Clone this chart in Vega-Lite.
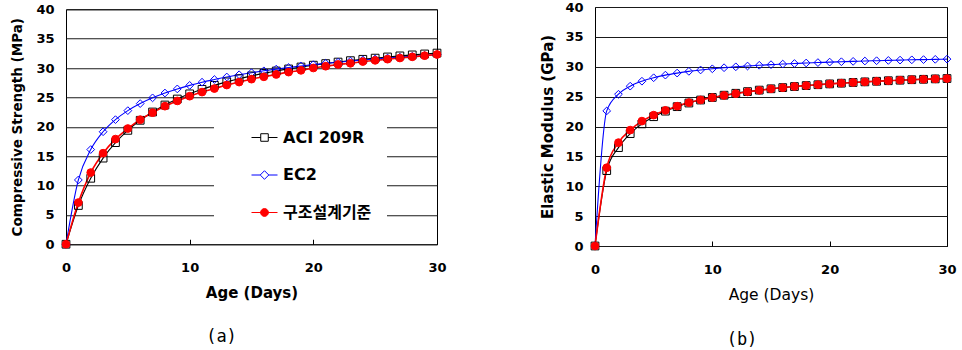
{
  "$schema": "https://vega.github.io/schema/vega-lite/v6.json",
  "background": "white",
  "padding": {"left": 10, "top": 0, "right": 5, "bottom": 0},
  "spacing": 93,
  "center": true,
  "datasets": {
    "strength": [
      {"t": 0, "ACI 209R": 0, "EC2": 0, "구조설계기준": 0},
      {"t": 1, "ACI 209R": 6.60, "EC2": 10.94, "구조설계기준": 7.1},
      {"t": 2, "ACI 209R": 11.23, "EC2": 16.12, "구조설계기준": 12.2},
      {"t": 3, "ACI 209R": 14.66, "EC2": 19.15, "구조설계기준": 15.5},
      {"t": 4, "ACI 209R": 17.30, "EC2": 21.21, "구조설계기준": 17.9},
      {"t": 5, "ACI 209R": 19.39, "EC2": 22.74, "구조설계기준": 19.7},
      {"t": 6, "ACI 209R": 21.10, "EC2": 23.94, "구조설계기준": 21.2},
      {"t": 7, "ACI 209R": 22.51, "EC2": 24.92, "구조설계기준": 22.4},
      {"t": 8, "ACI 209R": 23.70, "EC2": 25.74, "구조설계기준": 23.5},
      {"t": 9, "ACI 209R": 24.72, "EC2": 26.44, "구조설계기준": 24.4},
      {"t": 10, "ACI 209R": 25.60, "EC2": 27.04, "구조설계기준": 25.2},
      {"t": 11, "ACI 209R": 26.37, "EC2": 27.58, "구조설계기준": 25.9},
      {"t": 12, "ACI 209R": 27.04, "EC2": 28.04, "구조설계기준": 26.5},
      {"t": 13, "ACI 209R": 27.64, "EC2": 28.47, "구조설계기준": 27.1},
      {"t": 14, "ACI 209R": 28.18, "EC2": 28.85, "구조설계기준": 27.6},
      {"t": 15, "ACI 209R": 28.66, "EC2": 29.20, "구조설계기준": 28.1},
      {"t": 16, "ACI 209R": 29.09, "EC2": 29.52, "구조설계기준": 28.5},
      {"t": 17, "ACI 209R": 29.49, "EC2": 29.81, "구조설계기준": 28.9},
      {"t": 18, "ACI 209R": 29.84, "EC2": 30.08, "구조설계기준": 29.3},
      {"t": 19, "ACI 209R": 30.17, "EC2": 30.33, "구조설계기준": 29.6},
      {"t": 20, "ACI 209R": 30.48, "EC2": 30.57, "구조설계기준": 30.0},
      {"t": 21, "ACI 209R": 30.75, "EC2": 30.79, "구조설계기준": 30.3},
      {"t": 22, "ACI 209R": 31.01, "EC2": 30.99, "구조설계기준": 30.6},
      {"t": 23, "ACI 209R": 31.25, "EC2": 31.18, "구조설계기준": 30.8},
      {"t": 24, "ACI 209R": 31.48, "EC2": 31.37, "구조설계기준": 31.1},
      {"t": 25, "ACI 209R": 31.68, "EC2": 31.54, "구조설계기준": 31.3},
      {"t": 26, "ACI 209R": 31.88, "EC2": 31.70, "구조설계기준": 31.5},
      {"t": 27, "ACI 209R": 32.06, "EC2": 31.85, "구조설계기준": 31.7},
      {"t": 28, "ACI 209R": 32.23, "EC2": 32.00, "구조설계기준": 31.9},
      {"t": 29, "ACI 209R": 32.39, "EC2": 32.14, "구조설계기준": 32.1},
      {"t": 30, "ACI 209R": 32.54, "EC2": 32.27, "구조설계기준": 32.3}
    ],
    "modulus": [
      {"t": 0, "ACI 209R": 0, "EC2": 0, "구조설계기준": 0},
      {"t": 1, "ACI 209R": 12.62, "EC2": 22.61, "구조설계기준": 13.1},
      {"t": 2, "ACI 209R": 16.47, "EC2": 25.40, "구조설계기준": 17.3},
      {"t": 3, "ACI 209R": 18.81, "EC2": 26.75, "구조설계기준": 19.4},
      {"t": 4, "ACI 209R": 20.44, "EC2": 27.58, "구조설계기준": 20.9},
      {"t": 5, "ACI 209R": 21.64, "EC2": 28.16, "구조설계기준": 21.9},
      {"t": 6, "ACI 209R": 22.57, "EC2": 28.60, "구조설계기준": 22.7},
      {"t": 7, "ACI 209R": 23.32, "EC2": 28.94, "구조설계기준": 23.4},
      {"t": 8, "ACI 209R": 23.93, "EC2": 29.23, "구조설계기준": 24.0},
      {"t": 9, "ACI 209R": 24.43, "EC2": 29.46, "구조설계기준": 24.45},
      {"t": 10, "ACI 209R": 24.86, "EC2": 29.66, "구조설계기준": 24.85},
      {"t": 11, "ACI 209R": 25.24, "EC2": 29.84, "구조설계기준": 25.2},
      {"t": 12, "ACI 209R": 25.56, "EC2": 29.99, "구조설계기준": 25.5},
      {"t": 13, "ACI 209R": 25.84, "EC2": 30.12, "구조설계기준": 25.8},
      {"t": 14, "ACI 209R": 26.09, "EC2": 30.25, "구조설계기준": 26.05},
      {"t": 15, "ACI 209R": 26.31, "EC2": 30.35, "구조설계기준": 26.3},
      {"t": 16, "ACI 209R": 26.51, "EC2": 30.45, "구조설계기준": 26.5},
      {"t": 17, "ACI 209R": 26.69, "EC2": 30.54, "구조설계기준": 26.7},
      {"t": 18, "ACI 209R": 26.85, "EC2": 30.63, "구조설계기준": 26.85},
      {"t": 19, "ACI 209R": 26.99, "EC2": 30.70, "구조설계기준": 27.0},
      {"t": 20, "ACI 209R": 27.13, "EC2": 30.78, "구조설계기준": 27.13},
      {"t": 21, "ACI 209R": 27.25, "EC2": 30.84, "구조설계기준": 27.25},
      {"t": 22, "ACI 209R": 27.37, "EC2": 30.90, "구조설계기준": 27.37},
      {"t": 23, "ACI 209R": 27.47, "EC2": 30.96, "구조설계기준": 27.47},
      {"t": 24, "ACI 209R": 27.57, "EC2": 31.01, "구조설계기준": 27.57},
      {"t": 25, "ACI 209R": 27.66, "EC2": 31.06, "구조설계기준": 27.66},
      {"t": 26, "ACI 209R": 27.75, "EC2": 31.11, "구조설계기준": 27.75},
      {"t": 27, "ACI 209R": 27.83, "EC2": 31.16, "구조설계기준": 27.83},
      {"t": 28, "ACI 209R": 27.90, "EC2": 31.20, "구조설계기준": 27.90},
      {"t": 29, "ACI 209R": 27.97, "EC2": 31.24, "구조설계기준": 27.97},
      {"t": 30, "ACI 209R": 28.03, "EC2": 31.28, "구조설계기준": 28.03}
    ]
  },
  "config": {
    "view": {"stroke": "#000000", "strokeWidth": 1},
    "font": "DejaVu Sans",
    "axis": {
      "labelFont": "DejaVu Sans", "labelFontSize": 13, "labelFontWeight": "bold",
      "labelColor": "#000000", "titleColor": "#000000", "titleFont": "DejaVu Sans",
      "domain": false
    },
    "axisY": {"grid": true, "gridColor": "#1a1a1a", "gridWidth": 1, "ticks": false, "labelPadding": 12},
    "axisX": {"grid": false, "tickSize": -5, "tickColor": "#000000", "tickWidth": 1, "labelPadding": 22, "labelFlush": false, "titleFontSize": 15, "titlePadding": 11},
    "legend": {
      "titleOrient": "left", "titleFontSize": 10, "titleColor": "white", "titleFont": "DejaVu Sans",
      "orient": "none", "fillColor": "white", "padding": 15,
      "symbolSize": 676, "symbolStrokeWidth": 1, "labelOffset": 5,
      "labelFont": "DejaVu Sans, Noto Sans CJK KR", "labelFontSize": 16, "labelFontWeight": "bold", "labelColor": "#000000"
    }
  },
  "hconcat": [
    {
      "width": 371, "height": 235,
      "data": {"name": "strength"},
      "transform": [{"fold": ["ACI 209R", "EC2", "구조설계기준"], "as": ["series", "v"]}],
      "title": {"text": "(a)", "orient": "bottom", "anchor": "middle", "dx": -30, "offset": 29, "font": "DejaVu Sans Mono", "fontSize": 17, "fontWeight": "normal", "color": "#000000"},
      "encoding": {
        "x": {"field": "t", "type": "quantitative", "scale": {"domain": [0, 30], "nice": false},
              "axis": {"values": [0, 10, 20, 30], "format": "d", "title": "Age (Days)", "titleFontWeight": "bold"}},
        "y": {"field": "v", "type": "quantitative", "scale": {"domain": [0, 40], "nice": false},
              "axis": {"values": [0, 5, 10, 15, 20, 25, 30, 35, 40], "title": "Compressive Strength (MPa)", "titleFontSize": 13.5, "titleFontWeight": "bold", "titlePadding": 11}},
        "color": {"field": "series", "type": "nominal",
                  "scale": {"domain": ["ACI 209R", "EC2", "구조설계기준"], "range": ["#000000", "#0000ff", "#ff0000"]},
                  "legend": {
                    "title": ".", "legendX": 148, "legendY": 102, "titlePadding": 18, "rowPadding": 15.5,
                    "labelExpr": "datum.label + '\u00a0\u00a0\u00a0\u00a0\u00a0\u00a0\u00a0'"
                  }}
      },
      "layer": [
        {"mark": {"type": "line", "interpolate": "monotone"},
         "encoding": {"strokeWidth": {"condition": {"test": "datum.series == '구조설계기준'", "value": 1.6}, "value": 1.1}}},
        {"mark": {"type": "point", "filled": false, "strokeWidth": 1, "opacity": 1, "size": 60},
         "encoding": {
           "shape": {"condition": [{"test": "datum.series == 'ACI 209R'", "value": "square"}, {"test": "datum.series == 'EC2'", "value": "diamond"}], "value": "circle"},
           "fill": {"condition": {"test": "datum.series == '구조설계기준'", "value": "#ff0000"}, "value": "transparent"}
         }},
        {"transform": [{"filter": "false"}],
         "mark": {"type": "point", "filled": false, "strokeWidth": 1, "opacity": 1},
         "encoding": {
           "shape": {"field": "series", "type": "nominal", "scale": {"domain": ["ACI 209R", "EC2", "구조설계기준"], "range": ["M-1,0H-0.29M0.29,0H1M-0.29,-0.29H0.29V0.29H-0.29Z", "M-1,0H-0.33M0.33,0H1M0,-0.33L0.33,0L0,0.33L-0.33,0Z", "M-1,0H1M-0.3,0A0.3,0.3 0 1,0 0.3,0A0.3,0.3 0 1,0 -0.3,0Z"]}},
           "fill": {"field": "series", "type": "nominal", "scale": {"domain": ["ACI 209R", "EC2", "구조설계기준"], "range": ["transparent", "transparent", "#ff0000"]}}
         }}
      ]
    },
    {
      "width": 352, "height": 239,
      "data": {"name": "modulus"},
      "transform": [{"fold": ["ACI 209R", "EC2", "구조설계기준"], "as": ["series", "v"]}],
      "title": {"text": "(b)", "orient": "bottom", "anchor": "middle", "dx": -29, "offset": 29, "font": "DejaVu Sans Mono", "fontSize": 17, "fontWeight": "normal", "color": "#000000"},
      "encoding": {
        "x": {"field": "t", "type": "quantitative", "scale": {"domain": [0, 30], "nice": false},
              "axis": {"values": [0, 10, 20, 30], "format": "d", "title": "Age (Days)", "titleFontWeight": "normal", "titleFontSize": 15.5}},
        "y": {"field": "v", "type": "quantitative", "scale": {"domain": [0, 40], "nice": false},
              "axis": {"values": [0, 5, 10, 15, 20, 25, 30, 35, 40], "title": "Elastic Modulus (GPa)", "titleFontSize": 15, "titleFontWeight": "bold", "titlePadding": 9}},
        "color": {"field": "series", "type": "nominal",
                  "scale": {"domain": ["ACI 209R", "EC2", "구조설계기준"], "range": ["#000000", "#0000ff", "#ff0000"]},
                  "legend": {
                    "title": ".", "legendX": 145, "legendY": 109, "titlePadding": 14, "rowPadding": 17,
                    "labelExpr": "datum.label + '\u00a0\u00a0\u00a0\u00a0\u00a0\u00a0'"
                  }}
      },
      "layer": [
        {"mark": {"type": "line", "interpolate": "monotone"},
         "encoding": {"strokeWidth": {"condition": {"test": "datum.series == '구조설계기준'", "value": 1.6}, "value": 1.1}}},
        {"mark": {"type": "point", "filled": false, "strokeWidth": 1, "opacity": 1, "size": 60},
         "encoding": {
           "shape": {"condition": [{"test": "datum.series == 'ACI 209R'", "value": "square"}, {"test": "datum.series == 'EC2'", "value": "diamond"}], "value": "circle"},
           "fill": {"condition": {"test": "datum.series == '구조설계기준'", "value": "#ff0000"}, "value": "transparent"}
         }},
        {"transform": [{"filter": "false"}],
         "mark": {"type": "point", "filled": false, "strokeWidth": 1, "opacity": 1},
         "encoding": {
           "shape": {"field": "series", "type": "nominal", "scale": {"domain": ["ACI 209R", "EC2", "구조설계기준"], "range": ["M-1,0H-0.29M0.29,0H1M-0.29,-0.29H0.29V0.29H-0.29Z", "M-1,0H-0.33M0.33,0H1M0,-0.33L0.33,0L0,0.33L-0.33,0Z", "M-1,0H1M-0.3,0A0.3,0.3 0 1,0 0.3,0A0.3,0.3 0 1,0 -0.3,0Z"]}},
           "fill": {"field": "series", "type": "nominal", "scale": {"domain": ["ACI 209R", "EC2", "구조설계기준"], "range": ["transparent", "transparent", "#ff0000"]}}
         }}
      ]
    }
  ]
}
